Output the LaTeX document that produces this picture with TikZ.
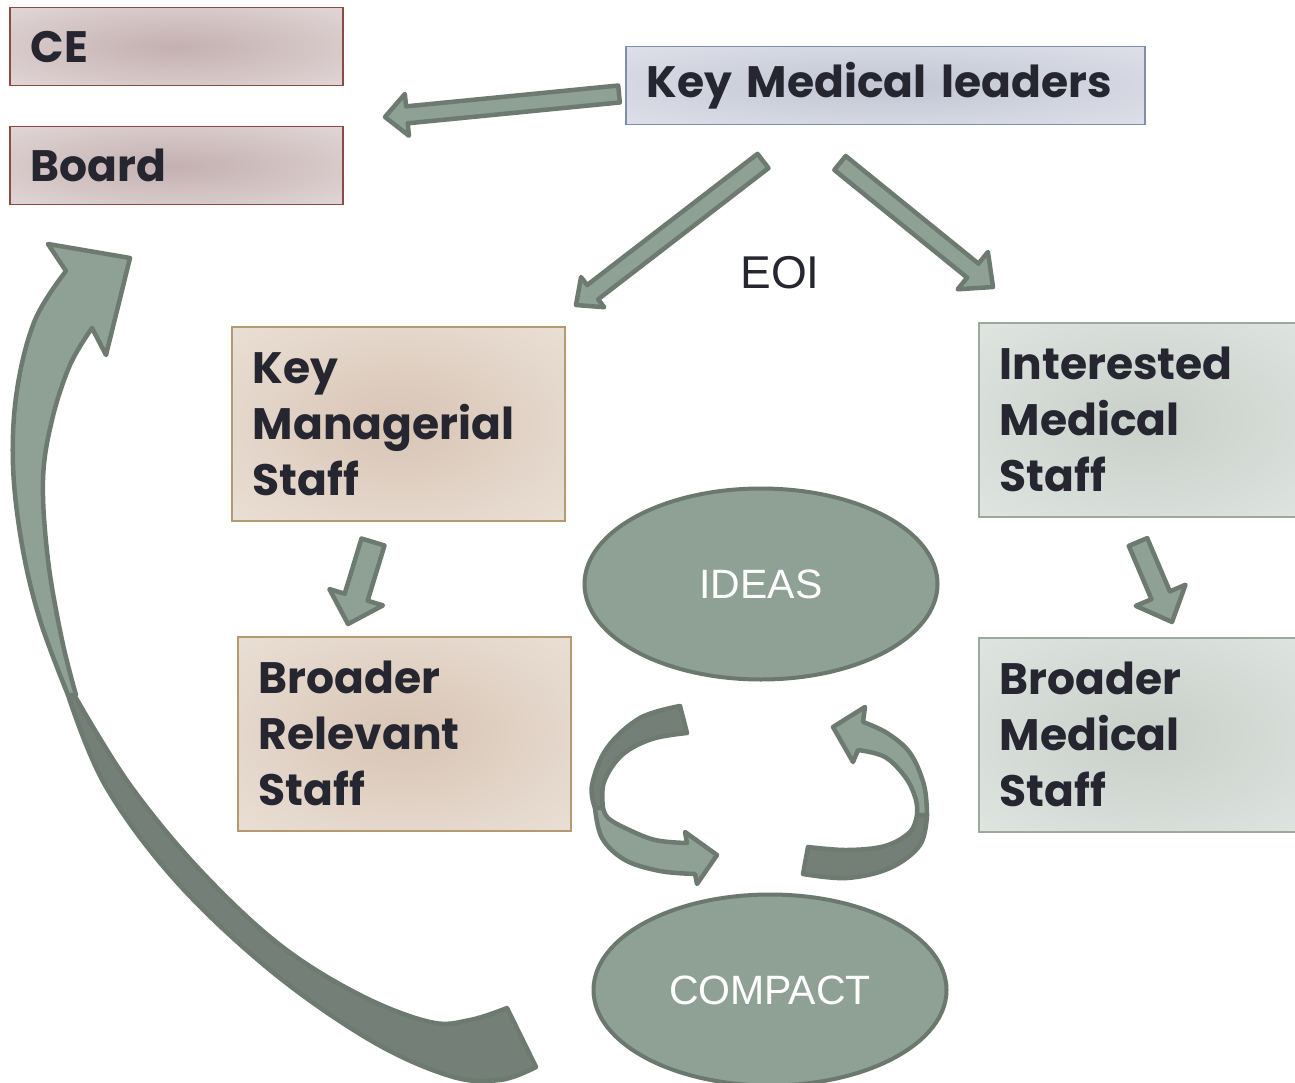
\documentclass[tikz,border=0pt]{standalone}
\usepackage{fontspec}
\setmainfont{Liberation Sans}
\newfontfamily\futfont{Poppins}
\usetikzlibrary{calc,shapes.geometric}
\definecolor{txt}{HTML}{25262F}
\definecolor{cein}{HTML}{C4B0B0}
\definecolor{ceout}{HTML}{EEE7E7}
\definecolor{cebd}{HTML}{8B4B42}
\definecolor{kmlin}{HTML}{C2C6D3}
\definecolor{kmlout}{HTML}{EAECF2}
\definecolor{kmlbd}{HTML}{7F8EAD}
\definecolor{kmsin}{HTML}{D8C5B5}
\definecolor{kmsout}{HTML}{F2EBE4}
\definecolor{kmsbd}{HTML}{B39A73}
\definecolor{imsin}{HTML}{C8D0CA}
\definecolor{imsout}{HTML}{E9EEEA}
\definecolor{imsbd}{HTML}{9CAA9E}
\definecolor{elfill}{HTML}{8FA095}
\definecolor{elline}{HTML}{6B786E}
\definecolor{arfill}{HTML}{8FA194}
\definecolor{ardark}{HTML}{747F77}
\definecolor{arline}{HTML}{6D7A70}
\pgfdeclareradialshading{ceshade}{\pgfpointorigin}{color(0bp)=(cein); color(52bp)=(ceout)}
\pgfdeclareradialshading{kmlshade}{\pgfpointorigin}{color(0bp)=(kmlin); color(52bp)=(kmlout)}
\pgfdeclareradialshading{kmsshade}{\pgfpointorigin}{color(0bp)=(kmsin); color(52bp)=(kmsout)}
\pgfdeclareradialshading{imsshade}{\pgfpointorigin}{color(0bp)=(imsin); color(52bp)=(imsout)}
\tikzset{
  txtfont/.style={font=\futfont\bfseries\fontsize{44}{56}\selectfont, text=txt},
  boxbase/.style={rectangle, txtfont, anchor=north west, inner xsep=21pt, inner ysep=0pt,
                  align=left, line width=1.5pt, shade},
  cebox/.style={boxbase, draw=cebd, shading=ceshade, text width=291pt, minimum height=78pt},
  kmlbox/.style={boxbase, draw=kmlbd, shading=kmlshade, text width=477pt, minimum height=78pt},
  kmsbox/.style={boxbase, draw=kmsbd, shading=kmsshade, text width=291pt, minimum height=194pt},
  imsbox/.style={boxbase, draw=imsbd, shading=imsshade, text width=291pt, minimum height=194pt},
  ellbox/.style={ellipse, fill=elfill, draw=elline, line width=4pt, inner sep=0pt,
                 minimum width=353pt, minimum height=191pt, text=white,
                 font=\fontsize{41}{48}\selectfont},
  arrowst/.style={fill=arfill, draw=arline, line width=4.5pt, line join=round},
  ribbonlight/.style={fill=arfill, draw=arline, line width=4.5pt, line join=round},
  ribbondark/.style={fill=ardark, draw=arline, line width=4.5pt, line join=round},
  plainlabel/.style={text=txt, font=\fontsize{46}{52}\selectfont, inner sep=0pt}
}
% block arrow: #1 tail, #2 tip, #3 shaft half width, #4 head half width, #5 head length
\newcommand\blockarr[5]{%
  \coordinate (ba-h) at ($(#2)!#5!(#1)$);
  \filldraw[arrowst] ($(#1)!#3!90:(#2)$) -- ($(ba-h)!#3!90:(#2)$) -- ($(ba-h)!#4!90:(#2)$)
    -- (#2) -- ($(ba-h)!#4!-90:(#2)$) -- ($(ba-h)!#3!-90:(#2)$) -- ($(#1)!#3!-90:(#2)$) -- cycle;
}
\begin{document}
\begin{tikzpicture}[x=1pt, y=-1pt]
\clip (0,0) rectangle (1295,1083);
\fill[white] (0,0) rectangle (1295,1083);

% boxes
\node[cebox] (ce) at (9,7) {CE};
\node[cebox] (board) at (9,126) {Board};
\node[kmlbox] (kml) at (625,46) {Key Medical leaders};
\node[kmsbox] (kms) at (231,326) {Key\\Managerial\\Staff};
\node[kmsbox] (brs) at (237,636) {Broader\\Relevant\\Staff};
\node[imsbox] (ims) at (978,322) {Interested\\Medical\\Staff};
\node[imsbox] (bms) at (978,637) {Broader\\Medical\\Staff};

% ellipses
\node[ellbox] (ideas) at (761,584) {IDEAS};
\node[ellbox] (compact) at (770,990) {COMPACT};

% label
\node[plainlabel] (eoi) at (780,273) {EOI};

% straight block arrows
\coordinate (a1t) at (619,94);   \coordinate (a1h) at (385,117);
\coordinate (a2t) at (763,161);  \coordinate (a2h) at (576,305);
\coordinate (a3t) at (840,163);  \coordinate (a3h) at (993,287);
\coordinate (a4t) at (373,542);  \coordinate (a4h) at (348,624);
\coordinate (a5t) at (1138,542); \coordinate (a5h) at (1172,622);
\blockarr{a1t}{a1h}{8.5pt}{21pt}{22pt}
\blockarr{a2t}{a2h}{9pt}{19pt}{21pt}
\blockarr{a3t}{a3h}{9pt}{24pt}{26pt}
\blockarr{a4t}{a4h}{12pt}{28pt}{28pt}
\blockarr{a5t}{a5h}{10pt}{27pt}{29pt}

% big curved ribbon arrow (COMPACT back up to Board)
\filldraw[ribbondark] plot[smooth, tension=0.6] coordinates {(68,695) (105,785) (175,880) (270,970) (370,1040) (450,1076) (500,1080) (536,1067)}
  -- plot[smooth, tension=0.6] coordinates {(507,1008) (470,1020) (430,1022) (360,995) (280,945) (200,870) (130,785) (76,698)} -- cycle;
\filldraw[ribbonlight] plot[smooth, tension=0.6] coordinates {(68,695) (40,620) (22,545) (13,465) (17,390) (35,320) (66,271)}
  -- (48,244) -- (130,258) -- (106,355)
  -- plot[smooth, tension=0.6] coordinates {(92,328) (70,365) (52,420) (43,480) (48,560) (62,640) (76,695)} -- cycle;

% left small curved arrow (IDEAS -> COMPACT)
\filldraw[ribbondark] plot[smooth, tension=0.6] coordinates {(680,706) (640,718) (607,748) (592,785) (595,808)}
  -- plot[smooth, tension=0.6] coordinates {(603,808) (604,782) (622,755) (652,739) (687,733)} -- cycle;
\filldraw[ribbonlight] plot[smooth, tension=0.6] coordinates {(595,808) (602,838) (625,860) (660,871) (695,874)}
  -- (697,884) -- (717,855) -- (685,832)
  -- plot[smooth, tension=0.6] coordinates {(687,843) (655,840) (625,828) (608,818) (603,808)} -- cycle;

% right small curved arrow (COMPACT -> IDEAS)
\filldraw[ribbondark] plot[smooth, tension=0.6] coordinates {(927,815) (920,845) (890,868) (847,878) (803,874)}
  -- plot[smooth, tension=0.6] coordinates {(808,847) (847,850) (885,846) (910,832) (917,815)} -- cycle;
\filldraw[ribbonlight] (833,727) -- (865,707)
  -- plot[smooth, tension=0.6] coordinates {(863,722) (887,733) (910,753) (924,785) (927,815)}
  -- plot[smooth, tension=0.6] coordinates {(917,815) (916,800) (906,778) (885,757) (858,750)}
  -- (853,762) -- cycle;
\end{tikzpicture}
\end{document}
